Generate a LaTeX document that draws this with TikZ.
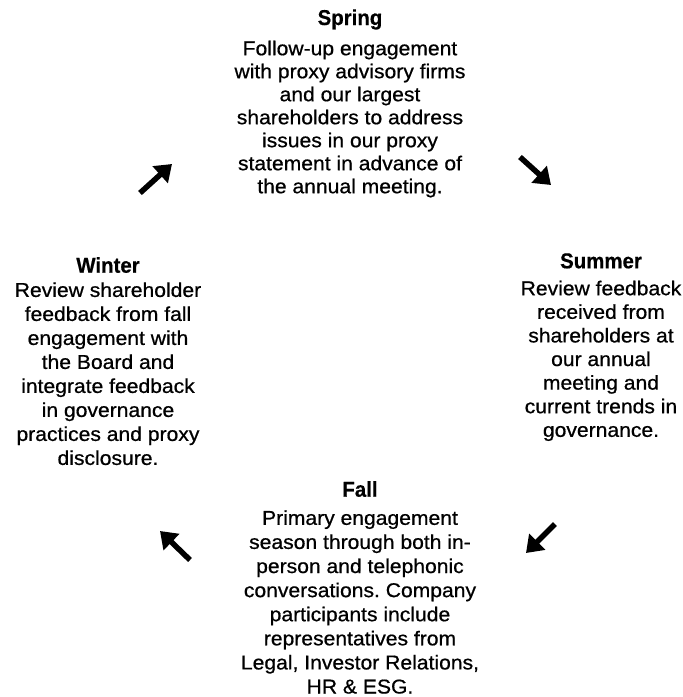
\documentclass[tikz,border=0pt]{standalone}
\usepackage{fontspec}
\setmainfont{Liberation Sans}
\newfontfamily\bodyfont{Liberation Sans}[FakeStretch=1.055,FakeBold=0.7]
\newfontfamily\titlefont{Liberation Sans}[FakeStretch=0.95,FakeBold=0.5]
\usetikzlibrary{arrows.meta}
\frenchspacing
\tikzset{
  ttl/.style={font=\titlefont\bfseries\fontsize{21.5}{24}\selectfont, anchor=base, inner sep=0pt},
  body/.style={font=\bodyfont\fontsize{20}{#1}\selectfont, align=center, anchor=north, inner sep=0pt},
  cyc/.style={line width=5.5pt, -{Triangle[length=16pt,width=22pt]}}
}
\newcommand{\fst}{\rule{0pt}{16pt}}
\begin{document}
\begin{tikzpicture}[x=1pt,y=-1pt]
\path[use as bounding box, fill=white] (0,0) rectangle (683,697);

% Spring
\node[ttl] (springT) at (350,25) {Spring};
\node[body=23] (springB) at (350,39) {\fst Follow-up engagement\\with proxy advisory firms\\and our largest\\shareholders to address\\issues in our proxy\\statement in advance of\\the annual meeting.};

% Summer
\node[ttl] (summerT) at (601,268.3) {Summer};
\node[body=23.6] (summerB) at (601,279) {\fst Review feedback\\received from\\shareholders at\\our annual\\meeting and\\current trends in\\governance.};

% Fall
\node[ttl] (fallT) at (360,496.7) {Fall};
\node[body=24.1] (fallB) at (360,508.6) {\fst Primary engagement\\season through both in-\\person and telephonic\\conversations. Company\\participants include\\representatives from\\Legal, Investor Relations,\\HR \& ESG.};

% Winter
\node[ttl] (winterT) at (108,272.7) {Winter};
\node[body=24] (winterB) at (108,280.7) {\fst Review shareholder\\feedback from fall\\engagement with\\the Board and\\integrate feedback\\in governance\\practices and proxy\\disclosure.};

% arrows
\coordinate (tlA) at (140,193);
\coordinate (tlB) at (172,164);
\coordinate (trA) at (520,157);
\coordinate (trB) at (551,185);
\coordinate (brA) at (555,524);
\coordinate (brB) at (526,553);
\coordinate (blA) at (190,560);
\coordinate (blB) at (160,531);
\draw[cyc] (tlA) -- (tlB);
\draw[cyc] (trA) -- (trB);
\draw[cyc] (brA) -- (brB);
\draw[cyc] (blA) -- (blB);
\end{tikzpicture}
\end{document}
